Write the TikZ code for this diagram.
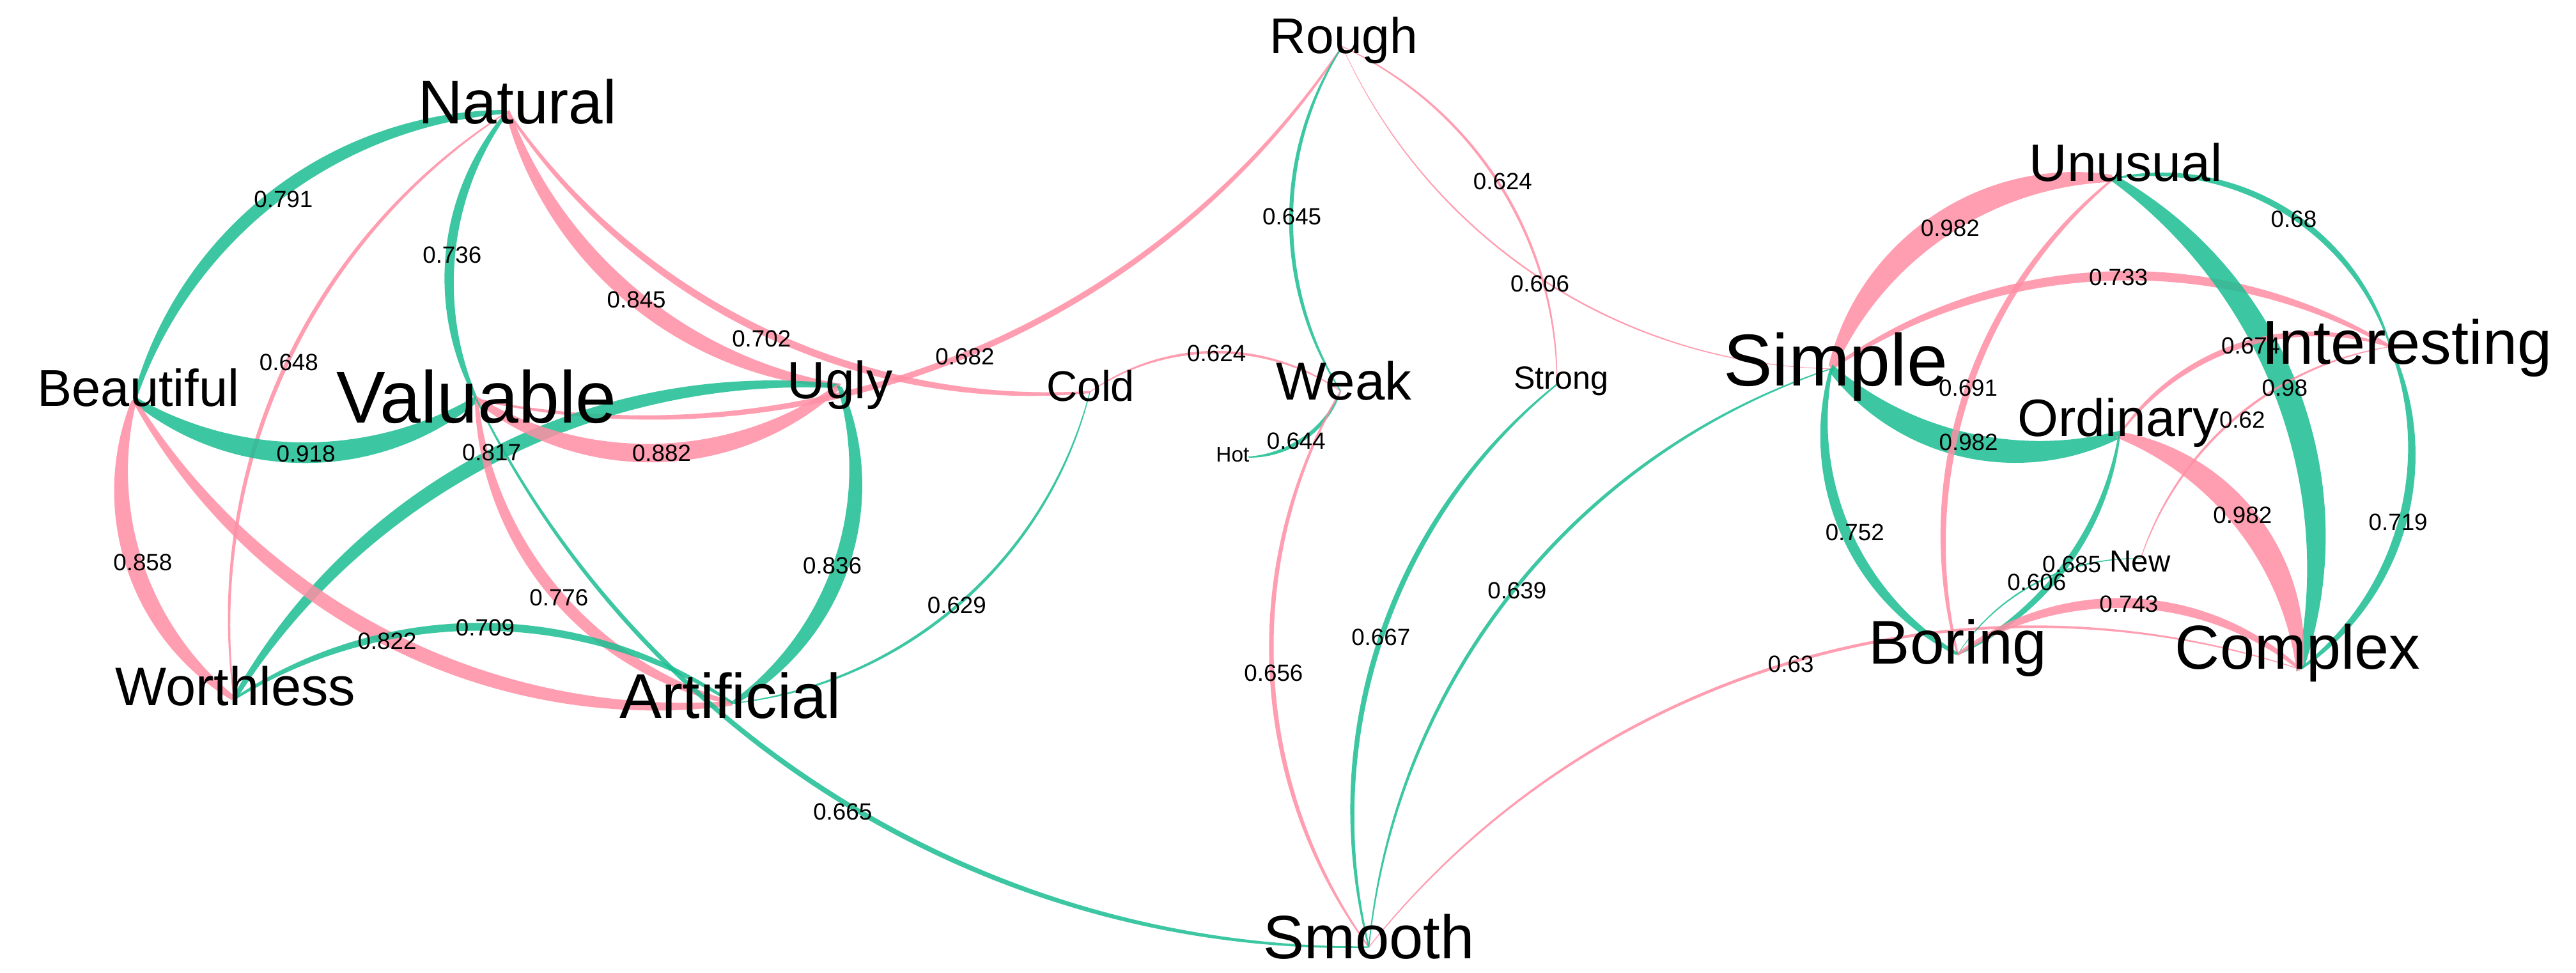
\documentclass[tikz,border=0pt]{standalone}
\usepackage{fontspec}
\setmainfont{Liberation Sans}
\usetikzlibrary{calc}
\definecolor{eg}{RGB}{26,190,146}
\definecolor{ep}{RGB}{255,142,164}
\newcommand\fsz[1]{\fontsize{#1pt}{#1pt}\selectfont}
% tapered arc edge: #1 from, #2 to, #3 bulge ratio (+ = left of travel), #4 width, #5 chord length, #6 style
\newcommand\edg[6]{%
  \pgfmathsetmacro\eKa{#3+0.325*#4/#5}%
  \pgfmathsetmacro\eKb{#3-0.325*#4/#5}%
  \pgfmathsetmacro\eTa{2*atan(2*\eKa)}%
  \pgfmathsetmacro\eTai{180-\eTa}%
  \pgfmathsetmacro\eTb{-2*atan(2*\eKb)}%
  \pgfmathsetmacro\eTbi{180-\eTb}%
  \pgfmathsetmacro\eLa{(1+4*\eKa*\eKa)/1.1745}%
  \pgfmathsetmacro\eLb{(1+4*\eKb*\eKb)/1.1745}%
  \pgfmathsetmacro\eH{0.175*#4}%
  \fill[#6] ($(#1)!\eH pt!90:(#2)$) to[relative, out=\eTa, in=\eTai, looseness=\eLa] ($(#2)!\eH pt!-90:(#1)$)
     -- ($(#2)!\eH pt!90:(#1)$) to[relative, out=\eTb, in=\eTbi, looseness=\eLb] ($(#1)!\eH pt!-90:(#2)$) -- cycle;
}
\begin{document}
\begin{tikzpicture}[x=1pt,y=-1pt,
  term/.style={anchor=base, inner sep=0pt, text=black},
  lbl/.style={inner sep=0pt, text=black, font=\fsz{14.3}},
  gedge/.style={fill=eg, fill opacity=0.85},
  pedge/.style={fill=ep, fill opacity=0.85}]
\fill[white] (0,0) rectangle (1568,592);
\useasboundingbox (0,0) rectangle (1568,592);

% node points
\coordinate (Nat) at (309,68);
\coordinate (Bea) at (81.7,243.3);
\coordinate (Val) at (290,243);
\coordinate (Ugl) at (511,235);
\coordinate (Col) at (663.4,238.6);
\coordinate (Wea) at (816,238);
\coordinate (Hot) at (760,278.2);
\coordinate (Rou) at (817,28.3);
\coordinate (Str) at (947.7,233.9);
\coordinate (Smo) at (833.2,576.4);
\coordinate (Art) at (446.2,428);
\coordinate (Wor) at (142.5,425.4);
\coordinate (Sim) at (1114.6,224.4);
\coordinate (Unu) at (1286.7,108.5);
\coordinate (Int) at (1455,211);
\coordinate (Ord) at (1290,264.6);
\coordinate (New) at (1303,340);
\coordinate (Bor) at (1191.6,398.2);
\coordinate (Com) at (1400,407.3);

% edges
\edg{Nat}{Bea}{-0.16}{7.85}{287}{gedge}
\edg{Nat}{Val}{-0.144}{5.79}{176}{gedge}
\edg{Nat}{Ugl}{-0.146}{9.87}{262}{pedge}
\edg{Nat}{Col}{-0.135}{4.52}{393.3}{pedge}
\edg{Nat}{Wor}{-0.145}{2.5}{394.3}{pedge}
\edg{Rou}{Val}{0.154}{3.77}{569}{pedge}
\edg{Bea}{Val}{-0.156}{12.6}{208.3}{gedge}
\edg{Wor}{Ugl}{0.143}{8.82}{414.8}{gedge}
\edg{Val}{Ugl}{-0.166}{11.25}{221.1}{pedge}
\edg{Bea}{Wor}{-0.165}{10.35}{192}{pedge}
\edg{Val}{Art}{-0.164}{7.28}{242.1}{pedge}
\edg{Ugl}{Art}{0.175}{9.53}{203.6}{gedge}
\edg{Bea}{Art}{-0.147}{9.0}{408.6}{pedge}
\edg{Wor}{Art}{0.149}{4.78}{303.7}{gedge}
\edg{Val}{Smo}{-0.145}{3.13}{637.4}{gedge}
\edg{Art}{Col}{-0.156}{1.79}{288.2}{gedge}
\edg{Col}{Wea}{0.157}{1.6}{152.6}{pedge}
\edg{Rou}{Wea}{-0.146}{2.39}{209.7}{gedge}
\edg{Hot}{Wea}{-0.152}{2.35}{68.9}{gedge}
\edg{Wea}{Smo}{-0.149}{2.8}{338.8}{pedge}
\edg{Rou}{Str}{0.147}{1.6}{243.6}{pedge}
\edg{Rou}{Sim}{-0.1445}{0.93}{356.4}{pedge}
\edg{Str}{Smo}{-0.146}{3.2}{361.1}{gedge}
\edg{Sim}{Smo}{-0.148}{2.16}{450.7}{gedge}
\edg{Smo}{Com}{0.157}{1.82}{591.5}{pedge}
\edg{Sim}{Unu}{0.17}{15}{207.5}{pedge}
\edg{Unu}{Int}{0.19}{3.7}{197.1}{gedge}
\edg{Sim}{Int}{0.146}{5.68}{340.7}{pedge}
\edg{Unu}{Com}{0.164}{14.9}{319.6}{gedge}
\edg{Ord}{Int}{0.167}{3.47}{173.5}{pedge}
\edg{Sim}{Ord}{-0.15}{15}{179.9}{gedge}
\edg{Unu}{Bor}{-0.146}{4.1}{304.9}{pedge}
\edg{New}{Int}{0.14}{1.45}{199.4}{pedge}
\edg{Ord}{Com}{0.163}{15}{180.2}{pedge}
\edg{Int}{Com}{0.176}{5.15}{203.9}{gedge}
\edg{Sim}{Bor}{-0.169}{6.39}{190.1}{gedge}
\edg{Ord}{Bor}{0.125}{3.88}{165.9}{gedge}
\edg{New}{Bor}{-0.13}{0.93}{125.7}{gedge}
\edg{Bor}{Com}{0.171}{6.05}{208.6}{pedge}

% edge labels
\node[lbl] (e1) at (172.5,121.2) {0.791};
\node[lbl] (e2) at (275.2,155) {0.736};
\node[lbl] (e3) at (387.4,182.4) {0.845};
\node[lbl] (e4) at (463.5,206) {0.702};
\node[lbl] (e5) at (175.8,220.7) {0.648};
\node[lbl] (e6) at (587.3,216.9) {0.682};
\node[lbl] (e7) at (186.2,276.3) {0.918};
\node[lbl] (e8) at (299.2,275.4) {0.817};
\node[lbl] (e9) at (402.7,275.7) {0.882};
\node[lbl] (e10) at (86.9,342.2) {0.858};
\node[lbl] (e11) at (340.2,363.6) {0.776};
\node[lbl] (e12) at (506.6,344.2) {0.836};
\node[lbl] (e13) at (235.6,390.1) {0.822};
\node[lbl] (e14) at (295.3,382) {0.709};
\node[lbl] (e15) at (512.9,494.1) {0.665};
\node[lbl] (e16) at (582.4,368.3) {0.629};
\node[lbl] (e17) at (740.5,215.2) {0.624};
\node[lbl] (e18) at (786.4,132) {0.645};
\node[lbl] (e19) at (789,268.5) {0.644};
\node[lbl] (e20) at (775.2,409.5) {0.656};
\node[lbl] (e21) at (914.7,110.3) {0.624};
\node[lbl] (e22) at (937.3,172.6) {0.606};
\node[lbl] (e23) at (840.5,387.7) {0.667};
\node[lbl] (e24) at (923.4,359.6) {0.639};
\node[lbl] (e25) at (1090.1,404) {0.63};
\node[lbl] (e26) at (1187,139) {0.982};
\node[lbl] (e27) at (1396.2,133.4) {0.68};
\node[lbl] (e28) at (1289.4,168.8) {0.733};
\node[lbl] (e29) at (1390.7,236.2) {0.98};
\node[lbl] (e30) at (1370,210.5) {0.674};
\node[lbl] (e31) at (1198.2,269.2) {0.982};
\node[lbl] (e32) at (1198,236) {0.691};
\node[lbl] (e33) at (1364.8,255.6) {0.62};
\node[lbl] (e34) at (1365,313.7) {0.982};
\node[lbl] (e35) at (1459.7,317.8) {0.719};
\node[lbl] (e36) at (1129,323.9) {0.752};
\node[lbl] (e37) at (1261,343.3) {0.685};
\node[lbl] (e38) at (1239.7,354.5) {0.606};
\node[lbl] (e39) at (1295.8,367.8) {0.743};

% term labels
\node[term, font=\fsz{37.5}] (tNat) at (315,75.4) {Natural};
\node[term, font=\fsz{31.6}] (tBea) at (84.3,247.1) {Beautiful};
\node[term, font=\fsz{44.7}] (tVal) at (290,257.5) {Valuable};
\node[term, font=\fsz{32}] (tUgl) at (511.3,242.5) {Ugly};
\node[term, font=\fsz{26}] (tCol) at (663.9,244.2) {Cold};
\node[term, font=\fsz{32.5}] (tWea) at (818,243.3) {Weak};
\node[term, font=\fsz{13}] (tHot) at (750.3,281) {Hot};
\node[term, font=\fsz{30.5}] (tRou) at (818,32.4) {Rough};
\node[term, font=\fsz{19.5}] (tStr) at (950.2,236.7) {Strong};
\node[term, font=\fsz{37.3}] (tSmo) at (833.2,583.5) {Smooth};
\node[term, font=\fsz{38.5}] (tArt) at (444.4,437.2) {Artificial};
\node[term, font=\fsz{33}] (tWor) at (143.3,429.5) {Worthless};
\node[term, font=\fsz{44.7}] (tSim) at (1117.3,234.8) {Simple};
\node[term, font=\fsz{32}] (tUnu) at (1293.9,110.3) {Unusual};
\node[term, font=\fsz{37.8}] (tInt) at (1465,221.6) {Interesting};
\node[term, font=\fsz{32}] (tOrd) at (1289.5,265.5) {Ordinary};
\node[term, font=\fsz{18.5}] (tNew) at (1302.7,347.9) {New};
\node[term, font=\fsz{37.5}] (tBor) at (1191.8,404) {Boring};
\node[term, font=\fsz{37.8}] (tCom) at (1398.6,407) {Complex};
\end{tikzpicture}
\end{document}
